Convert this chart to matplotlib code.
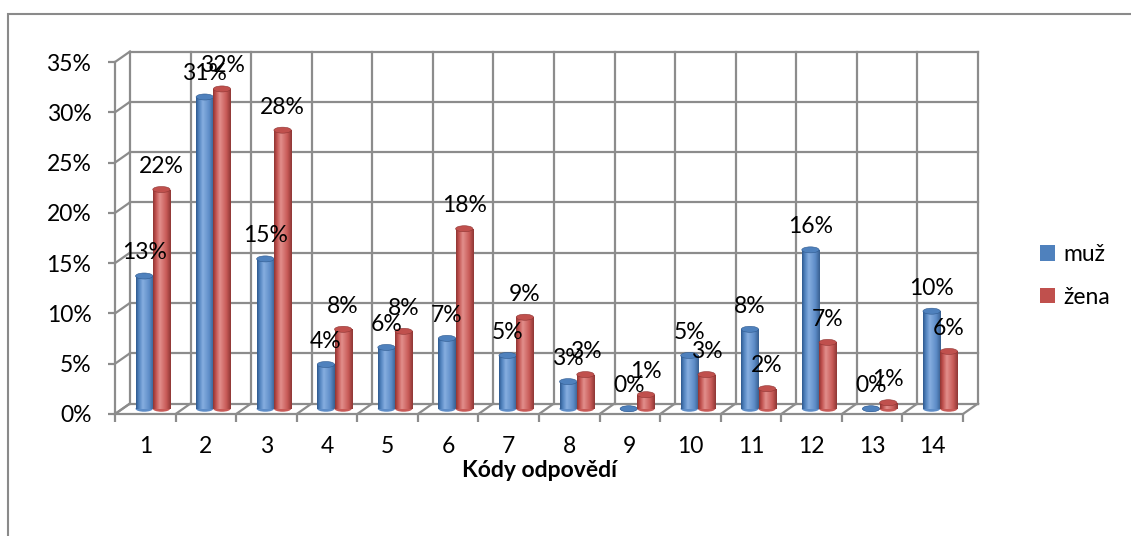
import numpy as np
import matplotlib
matplotlib.use("Agg")
import matplotlib.pyplot as plt
from matplotlib.patches import Ellipse, Rectangle
from matplotlib.colors import LinearSegmentedColormap

plt.rcParams['font.family'] = ['Lato', 'DejaVu Sans']

# ---- data ----
categories = [str(i) for i in range(1, 15)]
muz = [13.2, 31.0, 14.9, 4.4, 6.1, 7.0, 5.3, 2.7, 0.0, 5.3, 7.9, 15.8, 0.0, 9.7]
zena = [21.8, 31.8, 27.7, 7.9, 7.7, 17.9, 9.1, 3.4, 1.4, 3.4, 2.0, 6.6, 0.6, 5.7]
series_names = ['muž', 'žena']
y_ticks = [0, 5, 10, 15, 20, 25, 30, 35]
x_title = 'Kódy odpovědí'

W, H = 1131, 536
fig = plt.figure(figsize=(W / 100, H / 100), dpi=100)
fig.patch.set_facecolor('white')

# outer chart border (right/bottom edges fall outside the image)
fig.add_artist(Rectangle((8 / W, -0.2), 1.5, 1.2 - 14 / H, transform=fig.transFigure,
                         fill=False, edgecolor='#8a8a8a', lw=1.5))

ax = fig.add_axes([115 / W, (H - 414) / H, 848 / W, 352 / H])
ax.set_xlim(0.5, 14.5)
ax.set_ylim(0, 35)
ax.patch.set_visible(False)

GRID = '#8c8c8c'
GLW = 1.6
fs = 16.5

# depth offsets (pixels -> data units)
p0 = ax.transData.transform((0, 0))
p1 = ax.transData.transform((1, 1))
sx, sy = p1[0] - p0[0], p1[1] - p0[1]
DX = 15 / sx
DY = 10.5 / sy
EH = 6 / sy  # ellipse height of cylinder caps

n = len(categories)
xs = np.arange(1, n + 1)
bounds = np.arange(0.5, n + 1.0, 1.0)

# back wall
for v in y_ticks:
    ax.plot([0.5 + DX, 14.5 + DX], [v + DY, v + DY], color=GRID, lw=GLW, clip_on=False, zorder=1)
    ax.plot([0.5, 0.5 + DX], [v, v + DY], color=GRID, lw=GLW, clip_on=False, zorder=1)
for b in bounds:
    ax.plot([b + DX, b + DX], [DY, 35 + DY], color=GRID, lw=GLW, clip_on=False, zorder=1)
    ax.plot([b, b + DX], [0, DY], color=GRID, lw=GLW, clip_on=False, zorder=1)

# spines / ticks
for s in ['top', 'right']:
    ax.spines[s].set_visible(False)
for s in ['left', 'bottom']:
    ax.spines[s].set_color(GRID)
    ax.spines[s].set_linewidth(GLW)
ax.set_yticks(y_ticks)
ax.set_yticklabels([f'{v}%' for v in y_ticks], fontsize=fs)
ax.tick_params(axis='y', length=5, width=GLW, color=GRID, pad=12)
ax.set_xticks(bounds)
ax.set_xticklabels([])
ax.tick_params(axis='x', which='major', length=6, width=GLW, color=GRID)
ax.set_xticks(xs, minor=True)
ax.set_xticklabels(categories, minor=True, fontsize=fs)
ax.tick_params(axis='x', which='minor', length=0, pad=16)
ax.set_xlabel(x_title, fontsize=fs, fontweight='bold', labelpad=2)

# cylinders
bw = 0.285
series = [
    (muz, -bw / 2, '#4f81bd', ['#2f5a8f', '#4f81bd', '#86aee0', '#5d8cc7', '#385f90']),
    (zena, bw / 2, '#c0504d', ['#8f3533', '#c0504d', '#e28f8c', '#c85a57', '#8e3735']),
]
grad = np.linspace(0, 1, 64).reshape(1, -1)
handles = []
for ci in range(n):
    for si, (vals, off, col, stops) in enumerate(series):
        cmap = LinearSegmentedColormap.from_list('c', [(0, stops[0]), (0.15, stops[1]),
                                                      (0.38, stops[2]), (0.75, stops[3]),
                                                      (1, stops[4])])
        xc = xs[ci] + off + DX / 2
        base = DY / 2
        v = vals[ci]
        z = 3 + ci * 0.1 + si * 0.05
        # bottom cap
        ax.add_patch(Ellipse((xc, base), bw, EH, facecolor=stops[3], edgecolor='none',
                             zorder=z, clip_on=False))
        bars = ax.bar([xc], [v], width=bw, bottom=base, color=col, edgecolor='none',
                      zorder=z, clip_on=False, label=series_names[si] if ci == 0 else None)
        if ci == 0:
            handles.append(bars)
        rect = bars[0]
        if v > 0:
            im = ax.imshow(grad, cmap=cmap, aspect='auto',
                           extent=[xc - bw / 2, xc + bw / 2, base, base + v],
                           zorder=z + 0.01, interpolation='bilinear')
            im.set_clip_path(rect)
        # top cap
        ax.add_patch(Ellipse((xc, base + v), bw, EH, facecolor=stops[1], edgecolor=stops[0],
                             lw=0.4, zorder=z + 0.02, clip_on=False))
        ax.annotate(f'{int(v + 0.5)}%', (xc, base + v), xytext=(0, 12),
                    textcoords='offset points', ha='center', va='baseline',
                    fontsize=fs, zorder=10, annotation_clip=False)

ax.set_xlim(0.5, 14.5)
ax.set_ylim(0, 35)

leg = fig.legend(handles=handles, labels=series_names, loc='upper left',
                 bbox_to_anchor=(1040 / W, 1 - 244 / H), frameon=False, fontsize=fs,
                 handlelength=0.66, handleheight=0.66, handletextpad=0.35,
                 labelspacing=0.95, borderpad=0, borderaxespad=0)

fig.savefig('out.png', dpi=100)
